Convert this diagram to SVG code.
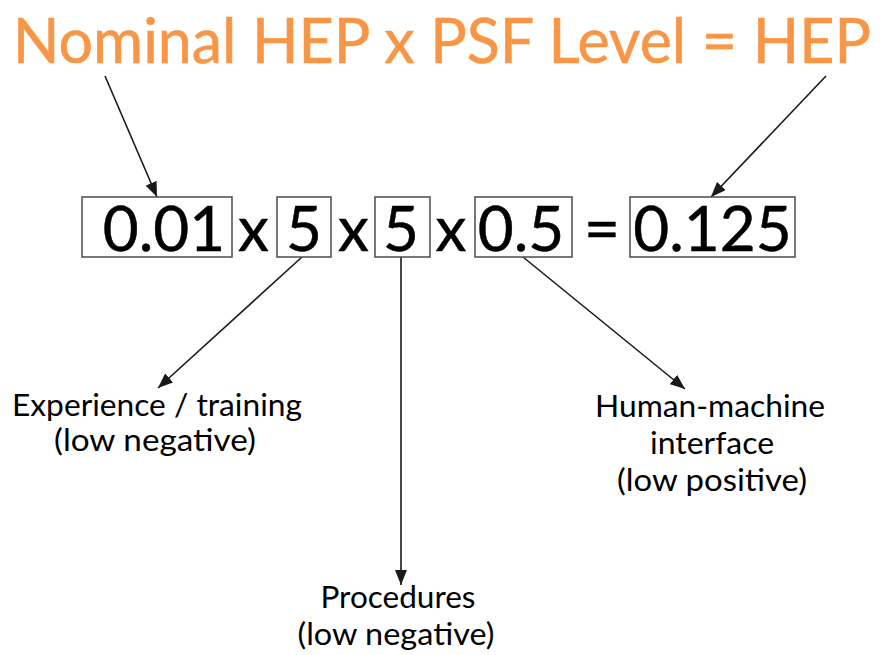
<svg xmlns="http://www.w3.org/2000/svg" width="882" height="655" viewBox="0 0 882 655">
<defs>
<marker id="ah" markerUnits="userSpaceOnUse" markerWidth="16" markerHeight="12" refX="15" refY="6" orient="auto">
<path d="M0,0 L15,6 L0,12 z" fill="#1a1a1a"/>
</marker>
<style>
.title{font-family:Lato,"Open Sans","Liberation Sans",sans-serif;font-size:62px;fill:#F79646;stroke:#F79646;stroke-width:0.6}
.num{font-family:Lato,"Open Sans","Liberation Sans",sans-serif;font-size:62px;fill:#000;stroke:#000;stroke-width:0.5;text-anchor:middle}
.lbl{font-family:Lato,"Open Sans","Liberation Sans",sans-serif;font-size:31px;fill:#000;text-anchor:middle}
.box{fill:#fff;stroke:#555;stroke-width:1.6}
.conn{stroke:#1a1a1a;stroke-width:1.6;fill:none;marker-end:url(#ah)}
</style>
</defs>
<rect width="882" height="655" fill="#fff"/>
<g id="title"><text class="title" x="13" y="63" textLength="858" lengthAdjust="spacingAndGlyphs">Nominal HEP x PSF Level = HEP</text></g>
<g id="connectors">
<line class="conn" x1="105" y1="76" x2="157" y2="197"/>
<line class="conn" x1="826" y1="76" x2="711" y2="197"/>
<line class="conn" x1="302" y1="257" x2="158" y2="388"/>
<line class="conn" x1="401" y1="257" x2="401" y2="585"/>
<line class="conn" x1="523" y1="257" x2="685" y2="389"/>
</g>
<g id="nominal"><rect class="box" x="82" y="197" width="150" height="60"/><text class="num" x="164" y="251">0.01</text></g>
<g id="op1"><text class="num" x="253.5" y="251">x</text></g>
<g id="psf1"><rect class="box" x="277" y="197" width="54" height="60"/><text class="num" x="304" y="251">5</text></g>
<g id="op2"><text class="num" x="353.5" y="251">x</text></g>
<g id="psf2"><rect class="box" x="375" y="197" width="55" height="60"/><text class="num" x="401" y="251">5</text></g>
<g id="op3"><text class="num" x="451" y="251">x</text></g>
<g id="psf3"><rect class="box" x="475" y="197" width="97" height="60"/><text class="num" x="521" y="251">0.5</text></g>
<g id="eq"><text class="num" x="602" y="251">=</text></g>
<g id="hep"><rect class="box" x="630" y="197" width="165" height="60"/><text class="num" x="712.5" y="251">0.125</text></g>
<g id="experience">
<text class="lbl" x="157" y="416" textLength="290" lengthAdjust="spacingAndGlyphs">Experience / training</text>
<text class="lbl" x="155" y="451" textLength="202" lengthAdjust="spacingAndGlyphs">(low negative)</text>
</g>
<g id="hmi">
<text class="lbl" x="710" y="417" textLength="230" lengthAdjust="spacingAndGlyphs">Human-machine</text>
<text class="lbl" x="712" y="454" textLength="124" lengthAdjust="spacingAndGlyphs">interface</text>
<text class="lbl" x="712" y="491" textLength="190" lengthAdjust="spacingAndGlyphs">(low positive)</text>
</g>
<g id="procedures">
<text class="lbl" x="398" y="608" textLength="155" lengthAdjust="spacingAndGlyphs">Procedures</text>
<text class="lbl" x="396" y="645" textLength="197" lengthAdjust="spacingAndGlyphs">(low negative)</text>
</g>
</svg>
